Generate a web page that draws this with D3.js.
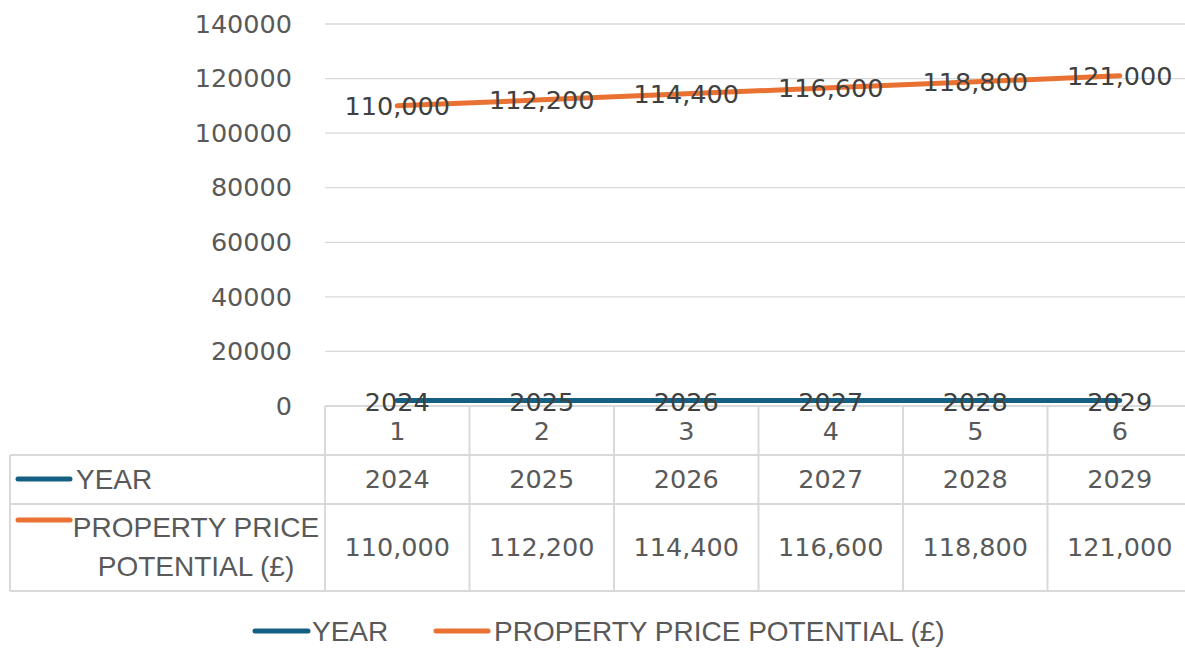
<!DOCTYPE html>
<html><head><meta charset="utf-8">
<script src="https://cdn.jsdelivr.net/npm/d3@7"></script>
<style>body{margin:0;background:#fff;}svg{display:block;font-family:"Liberation Sans",Arial,sans-serif;}</style>
</head><body><svg id="c" width="1185" height="648"></svg>
<script>
const categories = [1, 2, 3, 4, 5, 6];
const years = [2024, 2025, 2026, 2027, 2028, 2029];
const prices = [110000, 112200, 114400, 116600, 118800, 121000];
const yTicks = [0, 20000, 40000, 60000, 80000, 100000, 120000, 140000];
const seriesNames = ["YEAR", "PROPERTY PRICE POTENTIAL (£)"];
const colors = ["#156082", "#E97132"];

(function () {
const svg = d3.select("#c");
const pLeft = 325, pRight = 1192, pTop = 24, pBottom = 406;
const x = d3.scaleBand().domain(categories).range([pLeft, pRight]);
const y = d3.scaleLinear().domain([0, 140000]).range([pBottom, pTop]);
const textCol = "#595959", gridCol = "#d9d9d9";
const numFont = "DejaVu Sans", numFs = 25.5;
const txtFont = "Liberation Sans", txtFs = 28;

svg.append("g").selectAll("line").data(yTicks.filter(d => d > 0)).join("line")
  .attr("x1", pLeft).attr("x2", pRight).attr("y1", d => y(d)).attr("y2", d => y(d))
  .attr("stroke", gridCol).attr("stroke-width", 1.3);

const yAxis = d3.axisLeft(y).tickValues(yTicks).tickFormat(d3.format("d")).tickSize(0).tickPadding(33);
const ga = svg.append("g").attr("transform", `translate(${pLeft},0)`).call(yAxis);
ga.select(".domain").remove();
ga.selectAll("text").attr("font-size", numFs).attr("fill", textCol).attr("font-family", numFont);

const tbl = svg.append("g");
const tableLeft = 10;
const rowY = [406, 455, 504, 591];
tbl.append("line").attr("x1", pLeft).attr("x2", pRight).attr("y1", rowY[0]).attr("y2", rowY[0]).attr("stroke", gridCol).attr("stroke-width", 2);
[rowY[1], rowY[2], rowY[3]].forEach(yy => tbl.append("line").attr("x1", tableLeft).attr("x2", pRight).attr("y1", yy).attr("y2", yy).attr("stroke", gridCol).attr("stroke-width", 2));
const bounds = categories.map(c => x(c)).concat([pRight]);
bounds.forEach(bx => tbl.append("line").attr("x1", bx).attr("x2", bx).attr("y1", rowY[0]).attr("y2", rowY[3]).attr("stroke", gridCol).attr("stroke-width", 2));
tbl.append("line").attr("x1", tableLeft).attr("x2", tableLeft).attr("y1", rowY[1]).attr("y2", rowY[3]).attr("stroke", gridCol).attr("stroke-width", 2);

const cx = c => x(c) + x.bandwidth() / 2;
const numText = sel => sel.attr("dy", "0.35em").attr("text-anchor", "middle")
  .attr("font-size", numFs).attr("font-family", numFont);
tbl.selectAll(".cat").data(categories).join("text").attr("class", "cat")
  .attr("x", d => cx(d)).attr("y", 431).call(numText).attr("fill", textCol).text(d => d);
tbl.selectAll(".yr").data(categories).join("text").attr("class", "yr")
  .attr("x", d => cx(d)).attr("y", 479).call(numText).attr("fill", textCol).text((d, i) => years[i]);
tbl.selectAll(".pr").data(categories).join("text").attr("class", "pr")
  .attr("x", d => cx(d)).attr("y", 547).call(numText).attr("fill", textCol).text((d, i) => d3.format(",")(prices[i]));

const lblText = sel => sel.attr("dy", "0.35em").attr("font-size", txtFs).attr("font-family", txtFont).attr("fill", textCol);
tbl.append("line").attr("x1", 18).attr("x2", 70).attr("y1", 479).attr("y2", 479).attr("stroke", colors[0]).attr("stroke-width", 5).attr("stroke-linecap", "round");
tbl.append("text").attr("x", 76).attr("y", 479).call(lblText).text(seriesNames[0]);
tbl.append("line").attr("x1", 18).attr("x2", 70).attr("y1", 520).attr("y2", 520).attr("stroke", colors[1]).attr("stroke-width", 5).attr("stroke-linecap", "round");
tbl.append("text").attr("x", 196).attr("y", 527).call(lblText).attr("text-anchor", "middle").text("PROPERTY PRICE");
tbl.append("text").attr("x", 196).attr("y", 566).call(lblText).attr("text-anchor", "middle").text("POTENTIAL (£)");

const line = d3.line().x((d, i) => cx(categories[i])).y(d => y(d));
svg.append("path").datum(years).attr("d", line).attr("fill", "none").attr("stroke", colors[0]).attr("stroke-width", 5).attr("stroke-linecap", "round");
svg.append("path").datum(prices).attr("d", line).attr("fill", "none").attr("stroke", colors[1]).attr("stroke-width", 5).attr("stroke-linecap", "round");

svg.selectAll(".ly").data(years).join("text").attr("class", "ly")
  .attr("x", (d, i) => cx(categories[i])).attr("y", d => y(d) + 2).call(numText).attr("fill", "#404040").text(d => d);
svg.selectAll(".lp").data(prices).join("text").attr("class", "lp")
  .attr("x", (d, i) => cx(categories[i])).attr("y", d => y(d)).call(numText).attr("fill", "#404040").text(d => d3.format(",")(d));

const lg = svg.append("g");
lg.append("line").attr("x1", 255).attr("x2", 308).attr("y1", 631).attr("y2", 631).attr("stroke", colors[0]).attr("stroke-width", 5).attr("stroke-linecap", "round");
lg.append("text").attr("x", 312).attr("y", 631).call(lblText).text(seriesNames[0]);
lg.append("line").attr("x1", 436).attr("x2", 488).attr("y1", 631).attr("y2", 631).attr("stroke", colors[1]).attr("stroke-width", 5).attr("stroke-linecap", "round");
lg.append("text").attr("x", 494).attr("y", 631).call(lblText).text(seriesNames[1]);
})();
</script></body></html>
